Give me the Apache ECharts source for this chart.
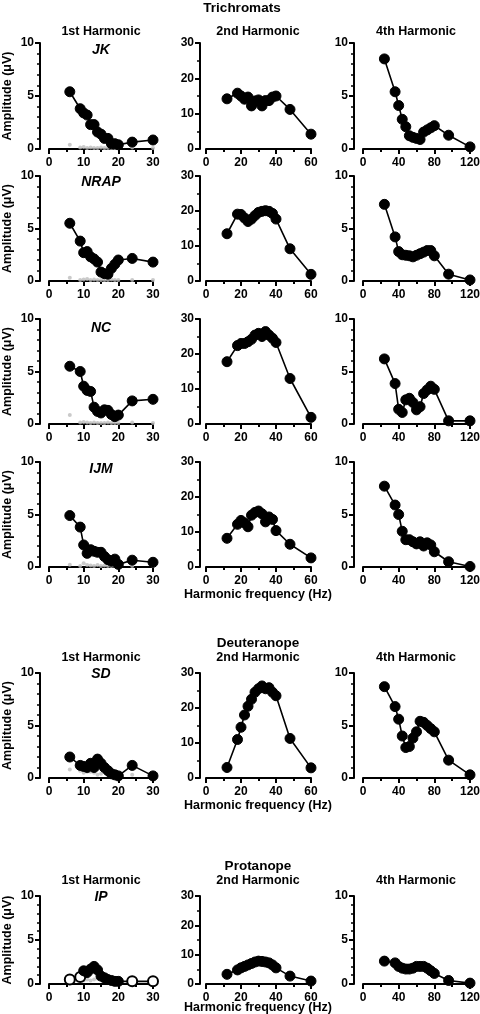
<!DOCTYPE html>
<html><head><meta charset="utf-8">
<script src="https://cdn.jsdelivr.net/npm/echarts@6/dist/echarts.min.js"></script>
<style>html,body{margin:0;padding:0;background:#fff}#c{width:480px;height:1014px}</style>
</head><body><div id="c"></div><script>
// ---- Data ----
const freqH1 = [6, 9, 10, 11, 12, 13, 14, 15, 16, 17, 18, 19, 20, 24, 30];
const freqH2 = [12, 18, 20, 22, 24, 26, 28, 30, 32, 34, 36, 38, 40, 48, 60];
const freqH4 = [24, 36, 40, 44, 48, 52, 56, 60, 64, 68, 72, 76, 80, 96, 120];

const groupTitles = ['Trichromats', 'Deuteranope', 'Protanope'];
const harmonicTitles = ['1st Harmonic', '2nd Harmonic', '4th Harmonic'];
const subjects = ['JK', 'NRAP', 'NC', 'IJM', 'SD', 'IP'];
const yTitle = 'Amplitude (μV)';
const xTitle = 'Harmonic frequency (Hz)';

const jkH1 = [5.4, 3.8, 3.4, 3.2, 2.3, 2.3, 1.6, 1.4, 1.0, 1.0, 0.5, 0.5, 0.4, 0.65, 0.85];
const jkH1Noise = [0.4, 0.15, 0.2, 0.1, 0.15, 0.1, 0.1, 0.15, 0.1, 0.1, 0.1, 0.1, 0.1, 0.15, 0.1];
const jkH2 = [14.2, 15.8, 15.0, 14.1, 14.7, 12.2, 13.6, 13.9, 12.2, 13.7, 13.7, 14.7, 15.0, 11.2, 4.2];
const jkH4 = [8.5, 5.4, 4.1, 2.8, 2.1, 1.25, 1.1, 1.0, 0.9, 1.6, 1.8, 2.0, 2.2, 1.3, 0.2];

const nrapH1 = [5.5, 3.8, 2.7, 2.8, 2.3, 2.1, 1.8, 0.85, 0.7, 0.65, 1.2, 1.6, 2.0, 2.15, 1.8];
const nrapH1Noise = [0.3, 0.1, 0.15, 0.2, 0.1, 0.15, 0.1, 0.1, 0.1, 0.1, 0.15, 0.1, 0.1, 0.1, 0.1];
const nrapH2 = [13.5, 19.1, 19.0, 18.0, 17.0, 17.7, 18.7, 19.6, 19.9, 20.1, 19.9, 19.3, 17.7, 9.2, 1.9];
const nrapH4 = [7.3, 4.2, 2.8, 2.5, 2.45, 2.4, 2.3, 2.45, 2.6, 2.75, 2.9, 2.9, 2.4, 0.65, 0.1];

const ncH1 = [5.5, 5.0, 3.6, 3.2, 3.1, 1.6, 1.2, 1.05, 1.35, 1.3, 0.9, 0.7, 0.85, 2.2, 2.35];
const ncH1Noise = [0.85, 0.15, 0.2, 0.15, 0.1, 0.15, 0.1, 0.1, 0.1, 0.15, 0.1, 0.1, 0.1, 0.15, 0.1];
const ncH2 = [17.8, 22.4, 23.0, 23.0, 23.5, 24.2, 25.4, 25.9, 25.0, 26.4, 25.4, 24.5, 23.3, 13.0, 1.9];
const ncH4 = [6.2, 3.85, 1.4, 1.1, 2.3, 2.45, 2.05, 1.35, 1.65, 2.9, 3.25, 3.6, 3.3, 0.3, 0.3];

const ijmH1 = [4.9, 3.8, 2.1, 1.3, 1.65, 1.5, 1.4, 1.4, 1.0, 0.7, 0.55, 0.75, 0.25, 0.65, 0.45];
const ijmH1Noise = [0.22, 0.1, 0.35, 0.2, 0.15, 0.1, 0.2, 0.1, 0.15, 0.1, 0.1, 0.1, 0.1, 0.1, 0.1];
const ijmH2 = [8.2, 12.2, 13.3, 12.6, 11.5, 14.8, 15.6, 16.0, 15.2, 12.9, 14.3, 13.6, 10.4, 6.5, 2.6];
const ijmH4 = [7.7, 5.9, 5.0, 3.4, 2.6, 2.6, 2.4, 2.2, 2.4, 2.0, 2.3, 2.1, 1.45, 0.5, 0.05];

const sdH1 = [2.0, 1.2, 1.1, 1.0, 1.4, 1.0, 1.8, 1.4, 1.0, 0.7, 0.4, 0.3, 0.2, 1.2, 0.2];
const sdH1Noise = [0.8, 0.7, 0.5, 0.6, 0.6, 0.5, 0.3, 0.4, 0.6, 0.3, 0.3, 0.2, 0.2, 0.3, 0.2];
const sdH2 = [3.0, 11.0, 14.5, 18.0, 20.5, 22.5, 24.5, 25.5, 26.3, 25.5, 25.8, 24.5, 23.5, 11.3, 2.9];
const sdH4 = [8.7, 6.8, 5.6, 4.0, 2.9, 3.0, 3.8, 4.4, 5.4, 5.3, 5.0, 4.7, 4.4, 1.7, 0.3];

const ipH1 = [0.5, 0.8, 1.5, 1.3, 1.7, 2.0, 1.6, 0.9, 0.7, 0.5, 0.4, 0.3, 0.3, 0.3, 0.3];
const ipH1Open = [0, 1, 13, 14];
const ipH1Noise = [0.6, 0.7, 0.4, 0.5, 0.4, 0.5, 0.6, 0.7, 0.4, 0.3, 0.3, 0.2, 0.2, 0.2, 0.2];
const ipH2 = [3.3, 4.8, 5.5, 6.0, 6.5, 7.0, 7.5, 7.8, 7.7, 7.5, 7.2, 6.5, 5.5, 2.7, 1.0];
const ipH4 = [2.6, 2.4, 2.0, 1.8, 1.7, 1.7, 1.8, 2.0, 2.0, 2.0, 1.8, 1.5, 1.2, 0.4, 0.1];

const xTicks = [[0, 30, 10], [0, 60, 20], [0, 120, 40]];
const yTicks = [[0, 10, 5], [0, 30, 10], [0, 10, 5]];

// ---- Layout ----
const rowData = [
  [jkH1, jkH1Noise, jkH2, jkH4, []],
  [nrapH1, nrapH1Noise, nrapH2, nrapH4, []],
  [ncH1, ncH1Noise, ncH2, ncH4, []],
  [ijmH1, ijmH1Noise, ijmH2, ijmH4, []],
  [sdH1, sdH1Noise, sdH2, sdH4, []],
  [ipH1, ipH1Noise, ipH2, ipH4, ipH1Open]
];
const rows = [
  {top: 43, h: 106, subjY: 50},
  {top: 176, h: 105, subjY: 182},
  {top: 319, h: 105, subjY: 328},
  {top: 462, h: 105, subjY: 469},
  {top: 673, h: 105, subjY: 674},
  {top: 896, h: 88, subjY: 897}
];
const cols = [
  {left: 49, w: 104, off: 9, ysplit: 5, cx: 101},
  {left: 206, w: 105, off: 6, ysplit: 2, cx: 258},
  {left: 363, w: 107, off: 9, ysplit: 5, cx: 416}
];
const freqs = [freqH1, freqH2, freqH4];
const FONT = '"Liberation Sans", Arial, sans-serif';

const grid = [], xAxis = [], yAxis = [], series = [], graphic = [];
function txt(text, x, y, size, opts) {
  opts = opts || {};
  graphic.push({
    type: 'text', x: x, y: y, rotation: opts.rot || 0, z: 100,
    style: {
      text: text, fill: '#000', textAlign: 'center', textVerticalAlign: 'middle',
      font: (opts.italic ? 'italic ' : '') + 'bold ' + size + 'px ' + FONT
    }
  });
}

rows.forEach((r, ri) => {
  cols.forEach((c, ci) => {
    const gi = grid.length;
    grid.push({left: c.left, top: r.top, width: c.w, height: r.h, outerBoundsMode: 'none', containLabel: false});
    const xt = xTicks[ci], yt = yTicks[ci];
    const axisLine = {show: true, onZero: false, lineStyle: {color: '#000', width: 2}};
    xAxis.push({
      type: 'value', gridIndex: gi, min: xt[0], max: xt[1], interval: xt[2],
      axisLine: axisLine,
      axisTick: {show: true, inside: false, length: 5, lineStyle: {color: '#000', width: 2}},
      minorTick: {show: true, splitNumber: 2, length: 3, lineStyle: {color: '#000', width: 2}},
      axisLabel: {show: true, margin: 8, color: '#000', fontSize: 12, fontWeight: 'bold', fontFamily: FONT, showMinLabel: true, showMaxLabel: true},
      splitLine: {show: false}, minorSplitLine: {show: false}
    });
    yAxis.push({
      type: 'value', gridIndex: gi, min: yt[0], max: yt[1], interval: yt[2], offset: c.off,
      axisLine: axisLine,
      axisTick: {show: true, inside: false, length: 5, lineStyle: {color: '#000', width: 2}},
      minorTick: {show: true, splitNumber: c.ysplit, length: 3, lineStyle: {color: '#000', width: 1.5}},
      axisLabel: {show: true, margin: 6, color: '#000', fontSize: 12, fontWeight: 'bold', fontFamily: FONT, showMinLabel: true, showMaxLabel: true},
      splitLine: {show: false}, minorSplitLine: {show: false}
    });
    const d = rowData[ri];
    const vals = ci === 0 ? d[0] : (ci === 1 ? d[2] : d[3]);
    const f = freqs[ci];
    if (ci === 0) {
      series.push({
        type: 'scatter', xAxisIndex: gi, yAxisIndex: gi, z: 1, silent: true,
        symbol: 'circle', symbolSize: 4, clip: false,
        itemStyle: {color: '#bdbdbd'},
        data: f.map((x, i) => [x, d[1][i]])
      });
    }
    const openIdx = ci === 0 ? d[4] : [];
    series.push({
      type: 'line', xAxisIndex: gi, yAxisIndex: gi, z: 3, silent: true, animation: false,
      symbol: 'circle', symbolSize: 10, showAllSymbol: true, clip: false,
      lineStyle: {color: '#000', width: 1.6},
      itemStyle: {color: '#000', borderColor: '#000', borderWidth: 1},
      data: f.map((x, i) => openIdx.indexOf(i) >= 0
        ? {value: [x, vals[i]], itemStyle: {color: '#fff', borderColor: '#000', borderWidth: 2}}
        : [x, vals[i]])
    });
  });
  txt(yTitle, 8, r.top + r.h / 2, 12.5, {rot: Math.PI / 2});
  txt(subjects[ri], cols[0].cx, r.subjY, 14, {italic: true});
});

txt(groupTitles[0], 242, 8, 13.5);
txt(groupTitles[1], 258, 643, 13.5);
txt(groupTitles[2], 258, 866, 13.5);
[32, 658, 881].forEach(y => {
  cols.forEach((c, ci) => txt(harmonicTitles[ci], c.cx, y, 12.5));
});
[595, 806, 1008].forEach(y => txt(xTitle, 258, y, 12.5));

const chart = echarts.init(document.getElementById('c'), null, {renderer: 'canvas'});
chart.setOption({
  animation: false, backgroundColor: '#fff',
  grid: grid, xAxis: xAxis, yAxis: yAxis, series: series, graphic: graphic
});
</script></body></html>
